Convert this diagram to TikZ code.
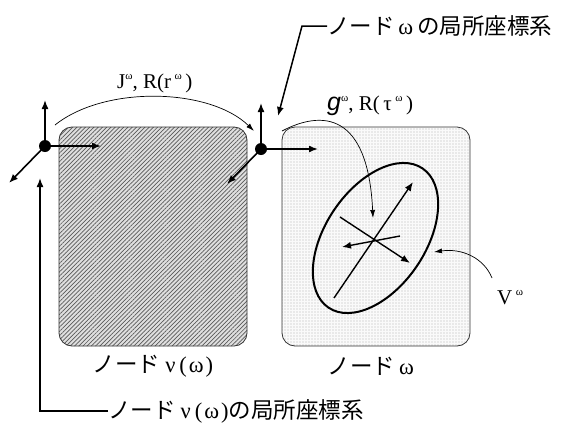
\documentclass[tikz,border=0pt]{standalone}
\usepackage{fontspec}
\setmainfont{Liberation Serif}
\setsansfont{Liberation Sans}
\newfontfamily\cjk{Noto Sans CJK JP}
\usetikzlibrary{arrows.meta,patterns,patterns.meta}
\newcommand\supw{\raisebox{9pt}{\fontsize{11}{11}\selectfont ω}}
\begin{document}
\begin{tikzpicture}[x=1pt,y=1pt,
  box/.style={draw=black!80, line width=0.8pt, rounded corners=13pt, minimum width=188pt, minimum height=219pt, inner sep=0pt},
  axis/.style={line width=1.6pt, -{Latex[length=9pt,width=7pt]}},
  lead/.style={line width=1.5pt, -{Latex[length=9pt,width=7pt]}},
  thinarr/.style={line width=0.7pt, -{Latex[length=8pt,width=5pt]}},
  dot/.style={circle, fill=black, inner sep=0pt, minimum size=12pt},
  lbl/.style={inner sep=0pt, font=\fontsize{21}{24}\selectfont},
  jlbl/.style={inner sep=0pt, font=\fontsize{22.5}{26}\selectfont}]
\useasboundingbox (0,0) rectangle (563,-429);
% boxes
\node[box, preaction={fill=gray!25}, pattern={Lines[angle=45,distance=3pt,line width=0.7pt]}, pattern color=black!65] (L) at (153,-236.5) {};
\node[box, preaction={fill=gray!4}, pattern={Dots[distance=3pt,radius=0.45pt]}, pattern color=black!80] (R) at (376,-236.5) {};
% frame of nu(omega)
\node[dot] (o1) at (45,-146) {};
\coordinate (o1u) at (45,-100);
\coordinate (o1r) at (101,-146);
\coordinate (o1d) at (9,-183);
\draw[axis] (o1.center) -- (o1u);
\draw[axis] (o1.center) -- (o1r);
\draw[axis] (o1.center) -- (o1d);
% frame of omega
\node[dot] (o2) at (261,-149) {};
\coordinate (o2u) at (261,-103);
\coordinate (o2r) at (318,-149);
\coordinate (o2d) at (227,-184);
\draw[axis] (o2.center) -- (o2u);
\draw[axis] (o2.center) -- (o2r);
\draw[axis] (o2.center) -- (o2d);
% ellipse
\coordinate (E) at (375.5,-238);
\draw[line width=2pt, rotate around={56:(E)}] (E) ellipse (84 and 50);
\coordinate (a1s) at (334,-298);
\coordinate (a1e) at (413,-182);
\coordinate (a2s) at (340,-217);
\coordinate (a2e) at (410,-263);
\coordinate (a3s) at (400,-236);
\coordinate (a3e) at (342,-247);
\draw[axis, line width=1.4pt] (a1s) -- (a1e);
\draw[axis, line width=1.4pt] (a2s) -- (a2e);
\draw[axis, line width=1.4pt] (a3s) -- (a3e);
% J label and curve
\node[lbl, anchor=base west] (J) at (117,-88) {J\supw, R(r\,\supw\,)};
\coordinate (js) at (55,-125);
\coordinate (je) at (254,-131);
\draw[thinarr] (js) .. controls (105,-85) and (210,-88) .. (je);
% g label and curve
\node[lbl, anchor=base west] (G) at (327,-110) {{\sffamily\itshape\fontsize{25}{25}\selectfont g}\supw, R(\,τ\,\supw\,)};
\coordinate (gs) at (282,-131);
\coordinate (ge) at (373,-218);
\draw[thinarr] (gs) .. controls (322,-110) and (368,-112) .. (ge);
% V label and curve
\node[lbl, anchor=base west] (V) at (497,-304) {V\,\supw};
\coordinate (vs) at (492,-278);
\coordinate (ve) at (434,-252);
\draw[thinarr] (vs) .. controls (484,-258) and (462,-248) .. (ve);
% top leader
\node[jlbl, anchor=west] (T1) at (327,-26) {{\cjk ノード}\,ω\,{\cjk の局所座標系}};
\coordinate (t1a) at (302,-26);
\coordinate (t1b) at (278,-116);
\draw[lead] (T1.west) -- (t1a) -- (t1b);
% bottom leader
\node[jlbl, anchor=west] (T2) at (108,-411) {{\cjk ノード}\hspace{5pt}ν\hspace{4pt}(\hspace{2pt}ω\hspace{2pt}){\cjk の局所座標系}};
\coordinate (t2a) at (40,-411);
\coordinate (t2b) at (40,-178);
\draw[lead] (T2.west) -- (t2a) -- (t2b);
% box captions
\node[jlbl] (CL) at (153,-366) {{\cjk ノード}\hspace{5pt}ν\hspace{4pt}(\hspace{2pt}ω\hspace{2pt})};
\node[jlbl] (CR) at (371,-366) {{\cjk ノード}\,ω};
\end{tikzpicture}
\end{document}
